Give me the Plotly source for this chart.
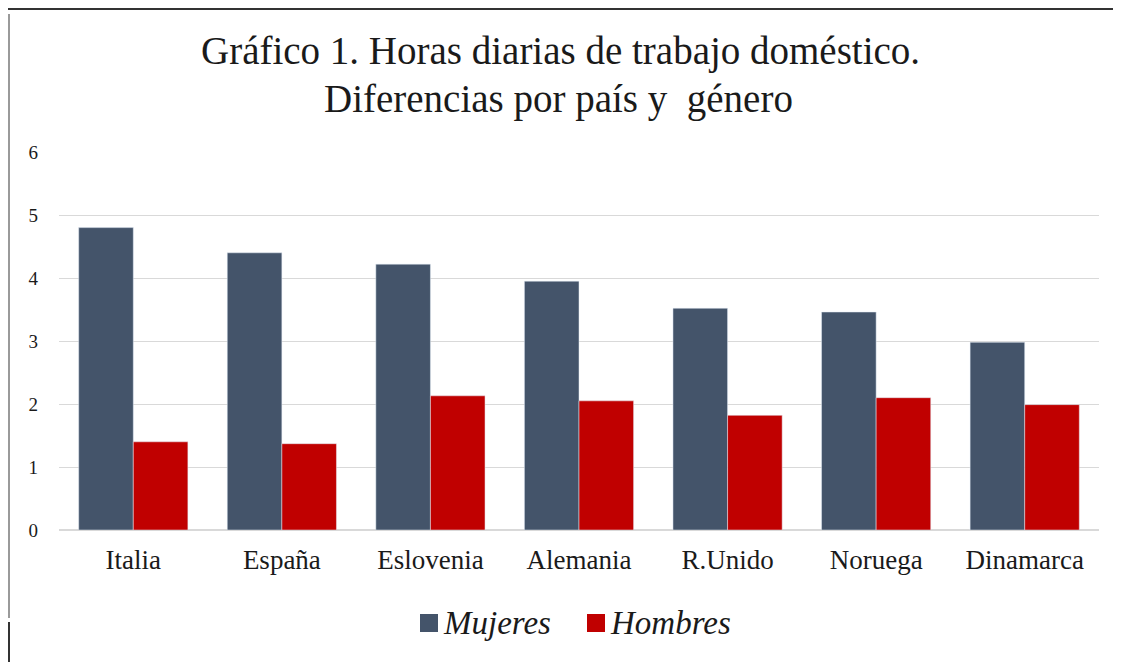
import plotly.graph_objects as go

categories = ["Italia", "España", "Eslovenia", "Alemania", "R.Unido", "Noruega", "Dinamarca"]
mujeres = [4.8, 4.4, 4.22, 3.95, 3.52, 3.46, 2.98]
hombres = [1.4, 1.37, 2.13, 2.05, 1.82, 2.1, 1.99]
y_ticks = [0, 1, 2, 3, 4, 5, 6]

# page body adds an 8px offset; work in reference pixel coords and compensate
OFF = 8
W, H = 1121 - OFF, 662 - OFF
PL, PR, PT, PB = 59, 1099, 152, 530  # plot area in reference pixels
L, R, T = PL - OFF, 1121 - PR, PT - OFF
B = H - T - (PB - PT)
pw, ph = W - L - R, PB - PT

def px(x):
    return (x - OFF - L) / pw

def py(y):
    return (PB - y) / ph

C_M, C_H = "#44546A", "#C00000"

fig = go.Figure()
fig.add_trace(go.Bar(x=categories, y=mujeres, name="Mujeres", marker_color=C_M, showlegend=False))
fig.add_trace(go.Bar(x=categories, y=hombres, name="Hombres", marker_color=C_H, showlegend=False))

annotations = [
    dict(text="Gráfico 1. Horas diarias de trabajo doméstico.", x=px(560), y=py(51),
         xref="paper", yref="paper", showarrow=False, xanchor="center", yanchor="middle",
         font=dict(size=39, family="Liberation Serif", color="#1a1a1a")),
    dict(text="Diferencias por país y  género", x=px(558), y=py(99),
         xref="paper", yref="paper", showarrow=False, xanchor="center", yanchor="middle",
         font=dict(size=39, family="Liberation Serif", color="#1a1a1a")),
]
legend_items = [("Mujeres", C_M, 429), ("Hombres", C_H, 596)]
shapes = []
for name, col, cx in legend_items:
    shapes.append(dict(type="rect", xref="paper", yref="paper",
                       x0=px(cx - 9), x1=px(cx + 9), y0=py(614), y1=py(632),
                       fillcolor=col, line=dict(width=0)))
    annotations.append(dict(text="<i>" + name + "</i>", x=px(cx + 12), y=py(623),
                            xref="paper", yref="paper", showarrow=False,
                            xanchor="left", yanchor="middle",
                            font=dict(size=33, family="Liberation Serif", color="#1a1a1a")))

shapes += [
    dict(type="line", xref="paper", yref="paper", x0=px(8), x1=px(1121), y0=py(9), y1=py(9),
         line=dict(color="#333333", width=2)),
    dict(type="line", xref="paper", yref="paper", x0=px(9), x1=px(9), y0=py(14), y1=py(618),
         line=dict(color="#9A9A9A", width=2)),
    dict(type="line", xref="paper", yref="paper", x0=px(9), x1=px(9), y0=py(622), y1=py(662),
         line=dict(color="#333333", width=2)),
]

fig.update_layout(
    width=W, height=H,
    margin=dict(l=L, r=R, t=T, b=B),
    paper_bgcolor="white", plot_bgcolor="white",
    barmode="group", bargap=0.265, bargroupgap=0,
    font=dict(family="Liberation Serif", color="#1a1a1a"),
    showlegend=False,
    xaxis=dict(showgrid=False, showline=False, ticks="", tickfont=dict(size=27),
               ticklabelstandoff=11),
    yaxis=dict(range=[0, 6], tickvals=y_ticks, showgrid=True, gridcolor="#D9D9D9",
               gridwidth=1, zeroline=True, zerolinecolor="#D9D9D9", showline=False,
               ticks="", tickfont=dict(size=19), ticklabelstandoff=20),
    shapes=shapes,
    annotations=annotations,
)

fig.write_html("out.html")
